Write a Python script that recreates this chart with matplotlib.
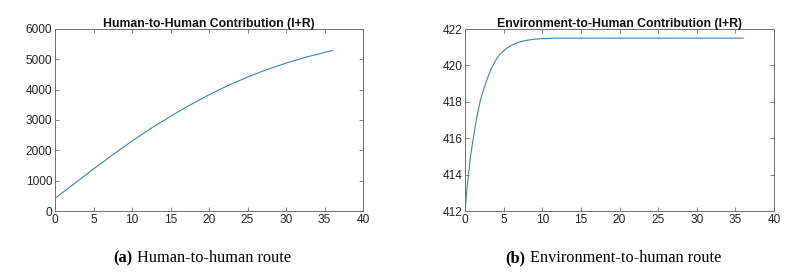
import matplotlib

matplotlib.use("Agg")
import matplotlib.pyplot as plt

# Human-to-human contribution (I+R)
days_h2h = [0, 2.5, 5, 7.5, 10, 12.5, 15, 17.5, 20, 22.5, 25, 27.5, 30, 32.5, 36]
h2h_values = [415, 900, 1385, 1855, 2305, 2730, 3120, 3490, 3830, 4140, 4415, 4660, 4875, 5065, 5290]

# Environment-to-human contribution (I+R)
days_e2h = [0, 0.25, 0.5, 0.75, 1, 1.5, 2, 2.5, 3, 3.5, 4, 4.5, 5, 5.5, 6, 6.5, 7, 8, 9, 10,
            12, 15, 20, 25, 30, 36]
e2h_values = [412.0, 413.2, 414.2, 415.1, 415.8, 417.1, 418.1, 418.8, 419.4, 419.9, 420.3,
              420.6, 420.8, 420.97, 421.1, 421.2, 421.28, 421.38, 421.44, 421.47,
              421.5, 421.5, 421.5, 421.5, 421.5, 421.5]

x_ticks = [0, 5, 10, 15, 20, 25, 30, 35, 40]
h2h_yticks = [0, 1000, 2000, 3000, 4000, 5000, 6000]
e2h_yticks = [412, 414, 416, 418, 420, 422]

LINE = "#3585c2"
AXIS = "#6e6e6e"
TEXT = "#262626"

plt.rcParams["font.family"] = ["Liberation Sans", "DejaVu Sans"]

fig = plt.figure(figsize=(8.0, 2.77), dpi=100)
ax_left = fig.add_axes([55 / 800, 66 / 277, 308 / 800, 182 / 277])
ax_right = fig.add_axes([465 / 800, 66 / 277, 309 / 800, 182 / 277])


def style_axes(ax, yticks, title):
    ax.set_xlim(0, 40)
    ax.set_ylim(yticks[0], yticks[-1])
    ax.set_xticks(x_ticks)
    ax.set_yticks(yticks)
    ax.tick_params(direction="in", top=True, right=True, length=3, width=0.6,
                   color=AXIS, labelcolor=TEXT, labelsize=8.6, pad=2)
    for spine in ax.spines.values():
        spine.set_color(AXIS)
        spine.set_linewidth(0.7)
    ax.set_title(title, fontsize=8.8, fontweight="bold", color="#111111", pad=1.5)


ax_left.plot(days_h2h, h2h_values, color=LINE, linewidth=0.8)
style_axes(ax_left, h2h_yticks, "Human-to-Human Contribution (I+R)")

ax_right.plot(days_e2h, e2h_values, color=LINE, linewidth=0.8)
style_axes(ax_right, e2h_yticks, "Environment-to-Human Contribution (I+R)")

cap_y = 1 - 258 / 277
serif = ["Liberation Serif", "DejaVu Serif"]
fig.text(113 / 800, cap_y, "(a)", family=serif, fontsize=11.8, fontweight="bold", va="center")
fig.text(137 / 800, cap_y, "Human-to-human route", family=serif, fontsize=11.8, va="center")
fig.text(505 / 800, cap_y, "(b)", family=serif, fontsize=11.8, fontweight="bold", va="center")
fig.text(530 / 800, cap_y, "Environment-to-human route", family=serif, fontsize=11.8, va="center")

fig.savefig("out.png", dpi=100)
plt.close(fig)
